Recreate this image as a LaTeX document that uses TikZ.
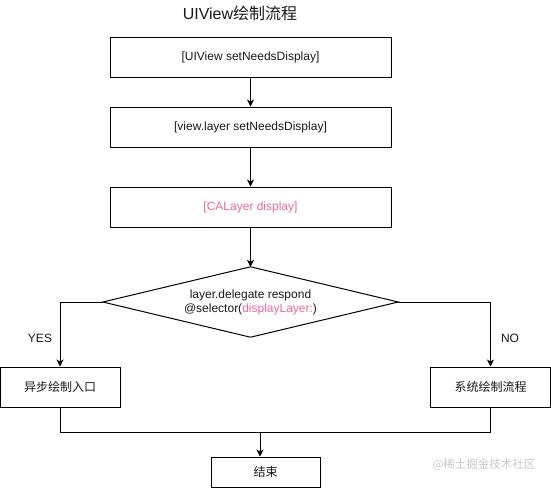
\documentclass[tikz,border=0pt]{standalone}
\usepackage{fontspec}
\setmainfont{Liberation Sans}
\newfontfamily\cjk{Noto Sans CJK SC}
\usetikzlibrary{arrows.meta}
\definecolor{pinktxt}{RGB}{234,104,160}
\definecolor{txt}{RGB}{25,25,25}
\definecolor{wm}{RGB}{200,200,200}
\begin{document}
\begin{tikzpicture}[x=1pt,y=-1pt,
  box/.style={draw=black,line width=1pt,rectangle,inner sep=0pt,text=txt,font=\fontsize{12}{14}\selectfont},
  arr/.style={draw=black,line width=1pt,-{Stealth[length=7pt,width=7pt,inset=2pt]}},
  ln/.style={draw=black,line width=1pt},
  lbl/.style={text=txt,font=\fontsize{12}{14}\selectfont,inner sep=0pt}]
\useasboundingbox (0,0) rectangle (551,488);
\node[text=txt,font=\fontsize{16}{18}\selectfont,inner sep=0pt] (title) at (240,13) {UIView{\cjk 绘制流程}};
\node[box,minimum width=281pt,minimum height=40pt] (b1) at (250.5,57) {[UIView setNeedsDisplay]};
\node[box,minimum width=281pt,minimum height=40pt] (b2) at (250.5,127) {[view.layer setNeedsDisplay]};
\node[box,minimum width=281pt,minimum height=40pt,text=pinktxt] (b3) at (250.5,207) {[CALayer display]};
\node[lbl,minimum width=295pt,minimum height=70pt,align=center] (dia) at (250.5,302) {layer.delegate respond\\@selector({\color{pinktxt}displayLayer:})};
\draw[ln] (dia.north) -- (dia.east) -- (dia.south) -- (dia.west) -- cycle;
\node[box,minimum width=120pt,minimum height=40pt,font=\cjk\fontsize{12}{14}\selectfont] (lb) at (60,387) {异步绘制入口};
\node[box,minimum width=120pt,minimum height=40pt,font=\cjk\fontsize{12}{14}\selectfont] (rb) at (490.5,387) {系统绘制流程};
\node[box,minimum width=109pt,minimum height=30pt,font=\cjk\fontsize{12}{14}\selectfont] (eb) at (265.5,472) {结束};
\node[lbl] (yes) at (40,338) {YES};
\node[lbl] (no) at (510,338) {NO};
\node[inner sep=0pt,text=wm,font=\cjk\fontsize{11.5}{13}\selectfont] (wmk) at (484,465) {@稀土掘金技术社区};
\coordinate (m) at (260,432);
\draw[arr] (b1.south) -- (b2.north);
\draw[arr] (b2.south) -- (b3.north);
\draw[arr] (b3.south) -- (dia.north);
\draw[arr] (dia.west) -| (lb.north);
\draw[arr] (dia.east) -| (rb.north);
\draw[ln] (lb.south) |- (m);
\draw[ln] (rb.south) |- (m);
\draw[arr] (m) -- (m |- eb.north);
\end{tikzpicture}
\end{document}
